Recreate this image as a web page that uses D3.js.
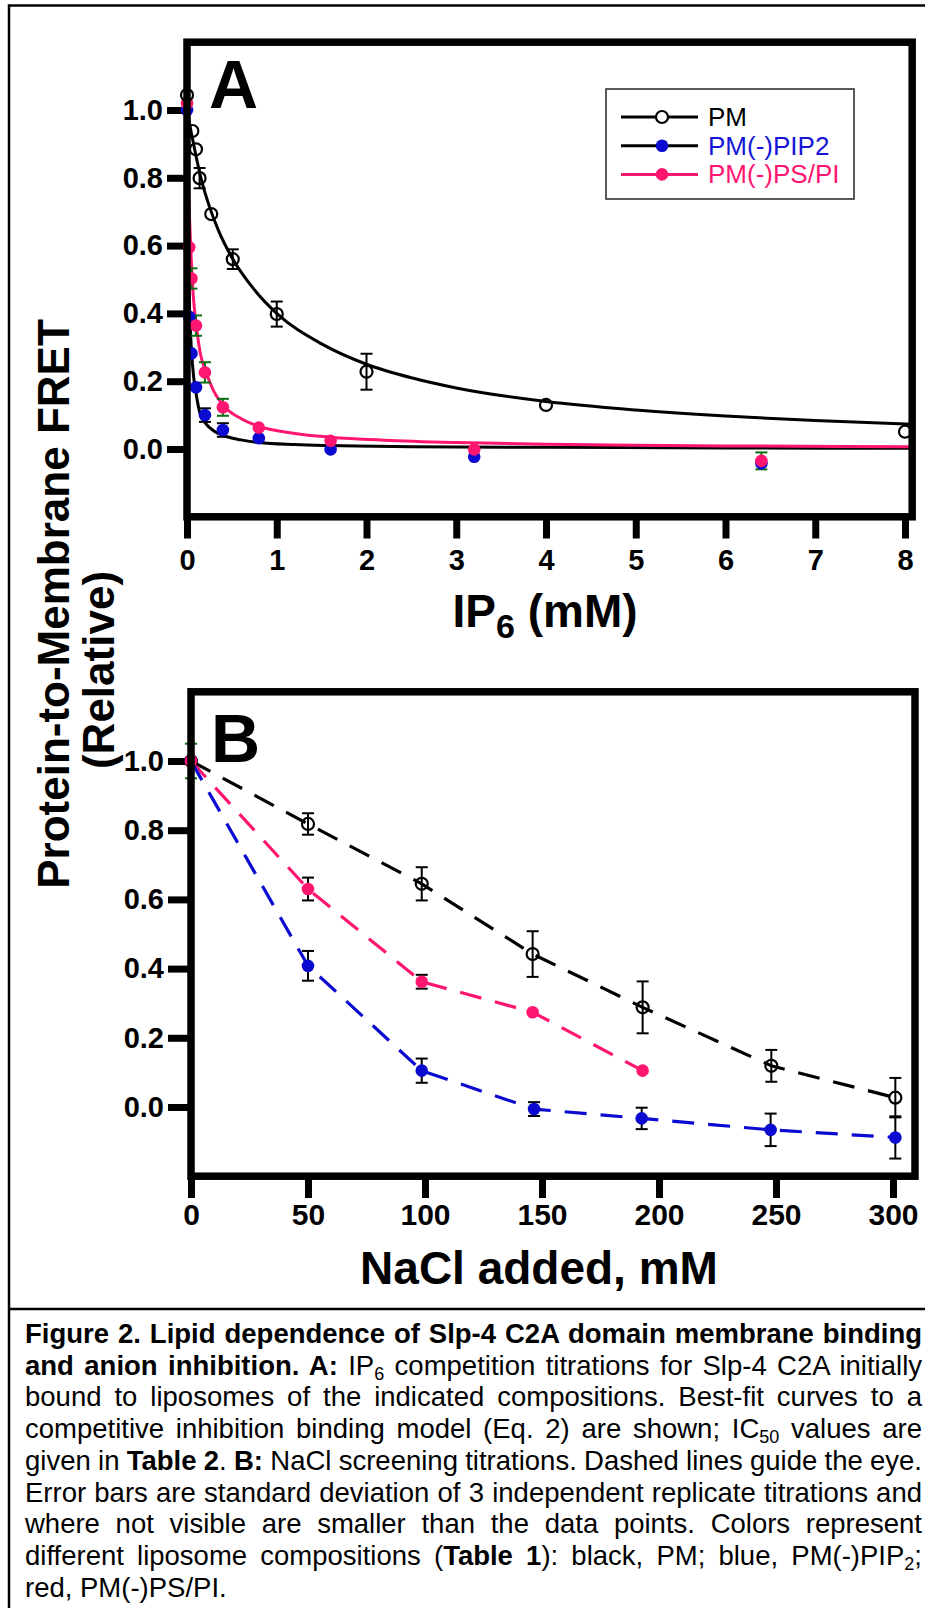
<!DOCTYPE html>
<html><head><meta charset="utf-8">
<script src="https://cdn.jsdelivr.net/npm/d3@7"></script>
<style>
html,body{margin:0;padding:0;background:#fff;}
svg{display:block;}
text{font-family:"Liberation Sans",Arial,Helvetica,sans-serif;}
</style></head><body>
<svg id="fig" width="925" height="1608"></svg>
<script>
// ================= DATA =================
const legendLabels = ["PM", "PM(-)PIP2", "PM(-)PS/PI"];
const ip6Ticks = [0, 1, 2, 3, 4, 5, 6, 7, 8];
const fretTicks = [0, 0.2, 0.4, 0.6, 0.8, 1.0];
const naclTicks = [0, 50, 100, 150, 200, 250, 300];

// Panel A: IP6 competition titrations (points)
const ipPM_x   = [0, 0.06, 0.1, 0.14, 0.27, 0.51, 1.0, 2.0, 4.0, 8.0];
const ipPM_y   = [1.044, 0.938, 0.884, 0.799, 0.693, 0.560, 0.398, 0.228, 0.130, 0.051];
const ipPM_err = [0, 0, 0, 0.03, 0, 0.029, 0.037, 0.053, 0, 0];
const ipPIP2_x   = [0, 0.025, 0.05, 0.1, 0.2, 0.4, 0.8, 1.6, 3.2, 6.4];
const ipPIP2_y   = [1.0, 0.39, 0.282, 0.182, 0.100, 0.056, 0.032, -0.001, -0.023, -0.042];
const ipPIP2_err = [0, 0, 0, 0, 0.02, 0.02, 0, 0, 0, 0];
const ipPSPI_x   = [0, 0.025, 0.05, 0.1, 0.2, 0.4, 0.8, 1.6, 3.2, 6.4];
const ipPSPI_y   = [1.02, 0.595, 0.503, 0.364, 0.226, 0.123, 0.063, 0.024, -0.001, -0.035];
const ipPSPI_err = [0, 0, 0.03, 0.03, 0.03, 0.025, 0, 0, 0, 0.025];

// Panel A: best-fit curves
const fitPM_x = [0, 0.05, 0.1, 0.15, 0.25, 0.35, 0.5, 0.75, 1.0, 1.5, 2.0, 2.5, 3.0, 4.0, 5.0, 6.0, 7.0, 8.08];
const fitPM_y = [1.0, 0.93, 0.865, 0.805, 0.715, 0.645, 0.565, 0.47, 0.40, 0.31, 0.25, 0.21, 0.18, 0.14, 0.115, 0.097, 0.084, 0.073];
const fitPIP2_x = [0, 0.01, 0.02, 0.03, 0.05, 0.075, 0.1, 0.15, 0.2, 0.3, 0.4, 0.6, 0.8, 1.2, 1.6, 2.5, 4.0, 6.0, 8.08];
const fitPIP2_y = [1.0, 0.68, 0.50, 0.40, 0.29, 0.21, 0.165, 0.10, 0.078, 0.053, 0.04, 0.027, 0.019, 0.013, 0.010, 0.007, 0.005, 0.003, 0.002];
const fitPSPI_x = [0, 0.01, 0.02, 0.03, 0.04, 0.06, 0.08, 0.11, 0.15, 0.2, 0.25, 0.3, 0.43, 0.6, 0.8, 1.2, 1.6, 2.2, 3.0, 4.0, 5.0, 6.0, 8.08];
const fitPSPI_y = [1.0, 0.86, 0.75, 0.67, 0.60, 0.49, 0.42, 0.35, 0.28, 0.235, 0.20, 0.17, 0.122, 0.09, 0.067, 0.046, 0.035, 0.026, 0.019, 0.014, 0.011, 0.009, 0.007];

// Panel B: NaCl screening titrations
const naclPM_x   = [0, 50, 98.6, 146, 193, 248, 301];
const naclPM_y   = [1.0, 0.818, 0.645, 0.442, 0.288, 0.119, 0.027];
const naclPM_err = [0, 0.031, 0.048, 0.066, 0.075, 0.046, 0.057];
const naclPIP2_x   = [0, 50, 98.6, 146.6, 192.6, 247.7, 301];
const naclPIP2_y   = [1.0, 0.408, 0.105, -0.006, -0.033, -0.066, -0.088];
const naclPIP2_err = [0, 0.043, 0.035, 0.02, 0.031, 0.047, 0.061];
const naclPSPI_x   = [0, 50, 98.6, 146, 193];
const naclPSPI_y   = [1.0, 0.630, 0.362, 0.274, 0.105];
const naclPSPI_err = [0.05, 0.033, 0.02, 0, 0];

// Caption
const captionLines = [
  [{t:"Figure 2. Lipid dependence of Slp-4 C2A domain membrane binding", b:1}],
  [{t:"and anion inhibition. A:", b:1}, {t:" IP"}, {t:"6", s:1}, {t:" competition titrations for Slp-4 C2A initially"}],
  [{t:"bound to liposomes of the indicated compositions. Best-fit curves to a"}],
  [{t:"competitive inhibition binding model (Eq. 2) are shown; IC"}, {t:"50", s:1}, {t:" values are"}],
  [{t:"given in "}, {t:"Table 2", b:1}, {t:". "}, {t:"B:", b:1}, {t:" NaCl screening titrations. Dashed lines guide the eye."}],
  [{t:"Error bars are standard deviation of 3 independent replicate titrations and"}],
  [{t:"where not visible are smaller than the data points. Colors represent"}],
  [{t:"different liposome compositions ("}, {t:"Table 1", b:1}, {t:"): black, PM; blue, PM(-)PIP"}, {t:"2", s:1}, {t:";"}],
  [{t:"red, PM(-)PS/PI."}]
];

// ================= STYLE =================
const BLUE = "#0a0ad0", PINK = "#ff1670", GREEN = "#0b6e12", FONT = '"Liberation Sans",Arial,Helvetica,sans-serif';
const svg = d3.select("#fig");
const zip = (xs, ys, es) => xs.map((x, i) => ({x, y: ys[i], e: es ? es[i] : 0}));

// outer frame
svg.append("path").attr("d", "M9,1608V5.5H925").attr("fill", "none").attr("stroke", "#000").attr("stroke-width", 2.5);
svg.append("line").attr("x1", 9).attr("x2", 925).attr("y1", 1309).attr("y2", 1309).attr("stroke", "#000").attr("stroke-width", 2.5);

function styleAxis(g, fs) {
  g.select(".domain").remove();
  g.selectAll(".tick line").attr("stroke", "#000").attr("stroke-width", 7);
  g.selectAll(".tick text").attr("font-size", fs).attr("font-weight", "bold").attr("fill", "#000").attr("font-family", FONT);
}

function errorBars(g, data, xs, ys, color) {
  const d = data.filter(p => p.e > 0);
  const eg = g.append("g").attr("stroke", color).attr("stroke-width", 2).attr("fill", "none");
  d.forEach(p => {
    const cx = xs(p.x), y1 = ys(p.y - p.e), y2 = ys(p.y + p.e);
    eg.append("line").attr("x1", cx).attr("x2", cx).attr("y1", y1).attr("y2", y2);
    eg.append("line").attr("x1", cx - 6).attr("x2", cx + 6).attr("y1", y1).attr("y2", y1);
    eg.append("line").attr("x1", cx - 6).attr("x2", cx + 6).attr("y1", y2).attr("y2", y2);
  });
}
function markers(g, data, xs, ys, open, color) {
  g.append("g").selectAll("circle").data(data).join("circle")
    .attr("cx", d => xs(d.x)).attr("cy", d => ys(d.y))
    .attr("r", open ? 6 : 6.3)
    .attr("fill", open ? "none" : color)
    .attr("stroke", open ? "#000" : "none").attr("stroke-width", open ? 2.2 : 0);
}

// ================= PANEL A =================
const xA = d3.scaleLinear().domain([0, 8]).range([187, 905]);
const yA = d3.scaleLinear().domain([-0.2, 1.2]).range([516.8, 42.2]);
const gA = svg.append("g");

gA.append("g").attr("transform", "translate(187,0)")
  .call(d3.axisLeft(yA).tickValues(fretTicks).tickFormat(d3.format(".1f")).tickSize(20).tickPadding(4))
  .call(g => styleAxis(g, 29));
gA.append("g").attr("transform", "translate(0,516.5)")
  .call(d3.axisBottom(xA).tickValues(ip6Ticks).tickFormat(d3.format("d")).tickSize(22).tickPadding(11))
  .call(g => styleAxis(g, 29));

const lineA = d3.line().x(d => xA(d.x)).y(d => yA(d.y)).curve(d3.curveMonotoneX);
gA.append("path").datum(zip(fitPIP2_x, fitPIP2_y)).attr("d", lineA).attr("fill", "none").attr("stroke", "#000").attr("stroke-width", 3);
gA.append("path").datum(zip(fitPM_x, fitPM_y)).attr("d", lineA).attr("fill", "none").attr("stroke", "#000").attr("stroke-width", 3);
gA.append("path").datum(zip(fitPSPI_x, fitPSPI_y)).attr("d", lineA).attr("fill", "none").attr("stroke", PINK).attr("stroke-width", 3);

const aPM = zip(ipPM_x, ipPM_y, ipPM_err), aPIP2 = zip(ipPIP2_x, ipPIP2_y, ipPIP2_err), aPSPI = zip(ipPSPI_x, ipPSPI_y, ipPSPI_err);
errorBars(gA, aPIP2, xA, yA, "#000");
errorBars(gA, aPSPI, xA, yA, GREEN);
errorBars(gA, aPM, xA, yA, "#000");
markers(gA, aPIP2, xA, yA, false, BLUE);
markers(gA, aPSPI, xA, yA, false, PINK);
markers(gA, aPM, xA, yA, true);

// frame A
gA.append("rect").attr("x", 187).attr("y", yA(1.2)).attr("width", xA(8.08) - 187).attr("height", yA(-0.2) - yA(1.2))
  .attr("fill", "none").attr("stroke", "#000").attr("stroke-width", 7.5);
gA.append("text").attr("x", 209).attr("y", 108).attr("font-size", 68).attr("font-weight", "bold").text("A");

// legend
const lg = gA.append("g");
lg.append("rect").attr("x", 606).attr("y", 89).attr("width", 248).attr("height", 110).attr("fill", "#fff").attr("stroke", "#333").attr("stroke-width", 1.6);
const lgLine = ["#000", "#000", PINK], lgMark = [null, BLUE, PINK], lgText = ["#000", "#1515d6", PINK];
legendLabels.forEach((lab, i) => {
  const cy = 117 + i * 28.7;
  lg.append("line").attr("x1", 621).attr("x2", 698).attr("y1", cy).attr("y2", cy).attr("stroke", lgLine[i]).attr("stroke-width", 3);
  if (lgMark[i]) lg.append("circle").attr("cx", 662).attr("cy", cy).attr("r", 6.3).attr("fill", lgMark[i]);
  else lg.append("circle").attr("cx", 662).attr("cy", cy).attr("r", 6).attr("fill", "#fff").attr("stroke", "#000").attr("stroke-width", 2.2);
  lg.append("text").attr("x", 708).attr("y", cy + 9).attr("font-size", 26).attr("fill", lgText[i]).text(lab);
});

// x title A
const tA = gA.append("text").attr("x", 545).attr("y", 627).attr("text-anchor", "middle").attr("font-size", 46).attr("font-weight", "bold");
tA.append("tspan").text("IP");
tA.append("tspan").attr("font-size", 34).attr("dy", 11).text("6");
tA.append("tspan").attr("dy", -11).text(" (mM)");

// ================= PANEL B =================
const xB = d3.scaleLinear().domain([0, 300]).range([191, 893]);
const yB = d3.scaleLinear().domain([-0.2, 1.2]).range([1176.2, 691.8]);
const gB = svg.append("g");

gB.append("g").attr("transform", "translate(191,0)")
  .call(d3.axisLeft(yB).tickValues(fretTicks).tickFormat(d3.format(".1f")).tickSize(23).tickPadding(4))
  .call(g => styleAxis(g, 29));
gB.append("g").attr("transform", "translate(0,1176)")
  .call(d3.axisBottom(xB).tickValues(naclTicks).tickFormat(d3.format("d")).tickSize(22).tickPadding(6))
  .call(g => styleAxis(g, 30));

const lineB = d3.line().x(d => xB(d.x)).y(d => yB(d.y));
const bPM = zip(naclPM_x, naclPM_y, naclPM_err), bPIP2 = zip(naclPIP2_x, naclPIP2_y, naclPIP2_err), bPSPI = zip(naclPSPI_x, naclPSPI_y, naclPSPI_err);
[[bPM, "#000"], [bPSPI, PINK], [bPIP2, BLUE]].forEach(([d, c]) => {
  gB.append("path").datum(d).attr("d", lineB).attr("fill", "none").attr("stroke", c).attr("stroke-width", 3.2).attr("stroke-dasharray", "22,14");
});
errorBars(gB, bPM, xB, yB, "#000");
errorBars(gB, bPIP2, xB, yB, "#000");
errorBars(gB, bPSPI.slice(1), xB, yB, "#000");
errorBars(gB, bPSPI.slice(0, 1), xB, yB, GREEN);
markers(gB, bPM, xB, yB, true);
markers(gB, bPIP2, xB, yB, false, BLUE);
markers(gB, bPSPI, xB, yB, false, PINK);

gB.append("rect").attr("x", 191).attr("y", yB(1.2)).attr("width", xB(309.4) - 191).attr("height", yB(-0.2) - yB(1.2))
  .attr("fill", "none").attr("stroke", "#000").attr("stroke-width", 7.5);
gB.append("text").attr("x", 211).attr("y", 762).attr("font-size", 68).attr("font-weight", "bold").text("B");
gB.append("text").attr("x", 539).attr("y", 1284).attr("text-anchor", "middle").attr("font-size", 46).attr("font-weight", "bold").text("NaCl added, mM");

// ================= Y TITLE =================
svg.append("text").attr("transform", "translate(69,604) rotate(-90)").attr("text-anchor", "middle")
  .attr("font-size", 44).attr("font-weight", "bold").text("Protein-to-Membrane FRET");
svg.append("text").attr("transform", "translate(114,670) rotate(-90)").attr("text-anchor", "middle")
  .attr("font-size", 44).attr("font-weight", "bold").text("(Relative)");

// ================= CAPTION =================
const cap = svg.append("g");
const capX = 25, capW = 897;
captionLines.forEach((runs, i) => {
  const t = cap.append("text").attr("x", capX).attr("y", 1343 + i * 31.7).attr("font-size", 27.5).attr("fill", "#000")
    .attr("xml:space", "preserve");
  let prevSub = false;
  runs.forEach(r => {
    const ts = t.append("tspan").text(r.t);
    if (r.b) ts.attr("font-weight", "bold");
    if (r.s) { ts.attr("font-size", 18).attr("dy", 5); prevSub = true; }
    else if (prevSub) { ts.attr("dy", -5); prevSub = false; }
  });
  if (i < captionLines.length - 1) {
    const w = t.node().getComputedTextLength();
    const n = runs.map(r => r.t).join("").split(" ").length - 1;
    t.style("word-spacing", ((capW - w) / n) + "px");
  }
});
</script>
</body></html>
